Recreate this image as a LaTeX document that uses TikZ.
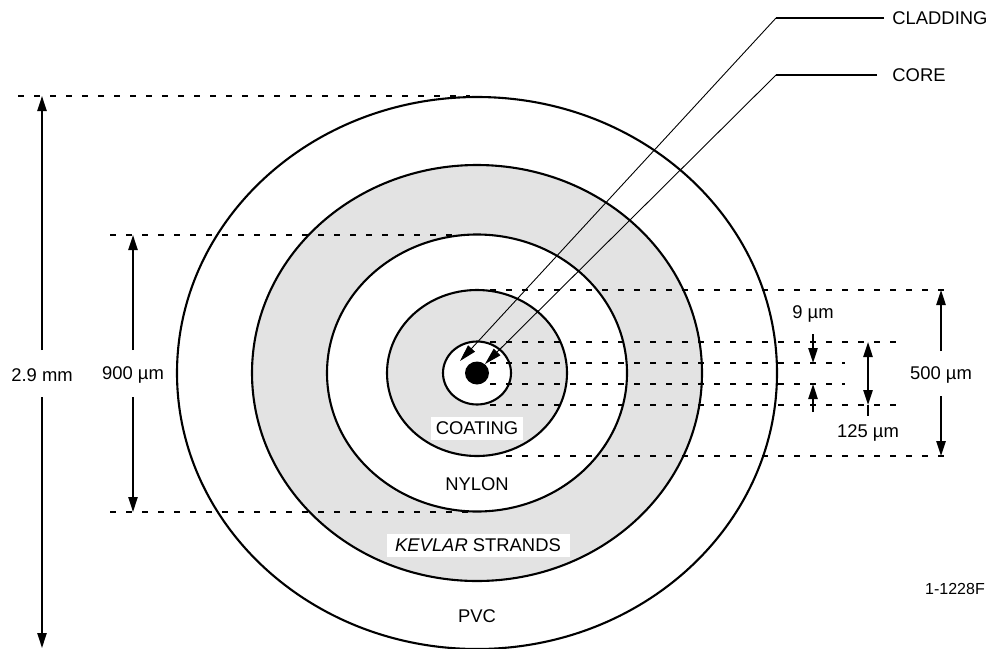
\documentclass[tikz,border=0pt]{standalone}
\usepackage{fontspec}
\setmainfont{Liberation Sans}
\usetikzlibrary{arrows.meta}
\definecolor{strandgray}{HTML}{E3E3E3}
\tikzset{
    layer/.style={draw=black, line width=1.05pt},
    guide/.style={draw=black, line width=0.95pt, dash pattern=on 3pt off 5pt},
    dim/.style={draw=black, line width=1pt, -{Triangle[length=7.5pt, width=4.6pt]}},
    leader/.style={draw=black, line width=0.45pt, -{Triangle[length=8.5pt, width=4.6pt]}},
    tag/.style={font=\fontsize{9.2}{11}\selectfont, inner sep=0pt},
    patch/.style={tag, fill=white, minimum height=11.5pt}
}
\begin{document}
\begin{tikzpicture}[x=0.5pt, y=-0.5pt]
    \useasboundingbox (0,0) rectangle (989,648);

    \coordinate (c) at (477,373); % centre of the fibre

    \draw [layer] (c) ellipse [x radius=300, y radius=276]; % PVC
    \draw [layer, fill=strandgray] (c) ellipse [x radius=225, y radius=208]; % kevlar
    \draw [layer, fill=white] (c) ellipse [x radius=150, y radius=138.5]; % nylon
    \draw [layer, fill=strandgray] (c) ellipse [x radius=90, y radius=83]; % coating
    \draw [layer, fill=white] (c) ellipse [x radius=34, y radius=31.5]; % cladding
    \fill [black] (c) ellipse [x radius=12, y radius=11.5]; % core

    % left side extension lines
    \draw [guide] (18,96) -- (470,96);
    \draw [guide] (110,235) -- (470,235);
    \draw [guide] (110,512) -- (470,512);
    % right side extension lines
    \draw [guide] (490,290) -- (950,290);
    \draw [guide] (506,456) -- (950,456);
    \draw [guide] (490,342) -- (899,342);
    \draw [guide] (490,363) -- (845,363);
    \draw [guide] (490,384) -- (845,384);
    \draw [guide] (490,405) -- (899,405);

    % dimension labels
    \node [tag] (pvcdim) at (42,375) {2.9 mm};
    \node [tag] (kevdim) at (133,375) {900 µm};
    \node [tag] (coatdim) at (941,375) {500 µm};
    \node [tag] (coredim) at (813,314) {9 µm};
    \node [tag] (claddim) at (868,433) {125 µm};

    % dimension ends
    \coordinate (pvctop) at (42,96);
    \coordinate (pvcbot) at (42,648);
    \coordinate (kevtop) at (133,235);
    \coordinate (kevbot) at (133,512);
    \coordinate (coattop) at (941,290);
    \coordinate (coatbot) at (941,456);
    \coordinate (coretop) at (813,363);
    \coordinate (corebot) at (813,384);
    \coordinate (coretail1) at (813,334);
    \coordinate (coretail2) at (813,412);
    \coordinate (cladtop) at (868,342);
    \coordinate (cladbot) at (868,405);
    \coordinate (cladtail) at (868,416);

    \draw [dim] (pvcdim.north |- 0,350) -- (pvctop);
    \draw [dim] (pvcdim.south |- 0,397) -- (pvcbot);
    \draw [dim] (kevdim.north |- 0,350) -- (kevtop);
    \draw [dim] (kevdim.south |- 0,397) -- (kevbot);
    \draw [dim] (coatdim.north |- 0,351) -- (coattop);
    \draw [dim] (coatdim.south |- 0,396) -- (coatbot);
    \draw [dim] (coretail1) -- (coretop);
    \draw [dim] (coretail2) -- (corebot);
    \draw [dim, {Triangle[length=7.5pt, width=4.6pt]}-{Triangle[length=7.5pt, width=4.6pt]}] (cladtop) -- (cladbot);
    \draw [draw=black, line width=1pt] (cladbot) -- (cladtail);

    % layer names
    \node [patch, minimum width=46pt] (coating) at (477,428.5) {COATING};
    \node [tag] (nylon) at (477,484) {NYLON};
    \node [patch, minimum width=91.5pt] (kevlar) at (478,545) {\textit{KEVLAR} STRANDS};
    \node [tag] (pvc) at (477,616) {PVC};
    \node [tag, font=\fontsize{8}{10}\selectfont] (partno) at (955,589) {1-1228F};

    % leaders to the centre
    \node [tag, anchor=west] (cladname) at (892,18) {CLADDING};
    \node [tag, anchor=west] (corename) at (892,75) {CORE};
    \coordinate (cladknee) at (776,18);
    \coordinate (coreknee) at (776,75);
    \coordinate (cladtip) at (460,361);
    \coordinate (coretip) at (485,364);
    \coordinate (cladstub) at (884,18);
    \coordinate (corestub) at (877,75);
    \draw [line width=1pt] (cladstub) -- (cladknee);
    \draw [line width=1pt] (corestub) -- (coreknee);
    \draw [leader] (cladknee) -- (cladtip);
    \draw [leader] (coreknee) -- (coretip);
\end{tikzpicture}
\end{document}
